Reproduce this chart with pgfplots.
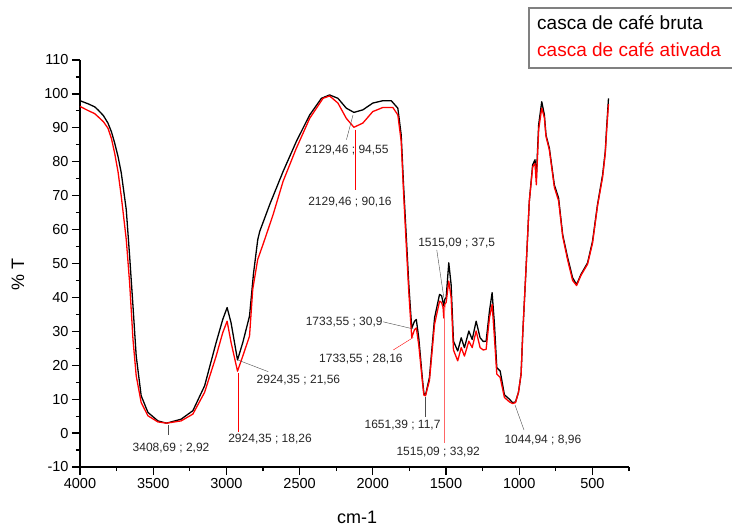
\documentclass[border=0pt]{standalone}
\usepackage{pgfplots}
\pgfplotsset{compat=1.18}
\usepackage{fontspec}
\setmainfont{Liberation Sans}

\begin{document}
\begin{tikzpicture}
\useasboundingbox (0,0) rectangle (732pt,528pt);
\begin{axis}[
  at={(80pt,61pt)}, anchor=south west,
  scale only axis, width=549pt, height=407pt,
  x dir=reverse,
  xmin=250, xmax=4000, ymin=-10, ymax=110,
  axis x line*=bottom, axis y line*=left,
  axis line style={line width=1.6pt, -},
  xtick={500,1000,...,4000}, minor xtick={750,1250,...,3750,250},
  ytick={-10,0,...,110}, minor ytick={-5,5,...,105},
  tick align=outside,
  major tick length=8pt, minor tick length=4pt,
  tick style={black, line width=1.2pt},
  /pgf/number format/assume math mode=true,
  /pgf/number format/set thousands separator={},
  tick label style={font=\fontsize{14.5}{16}\selectfont},
  xlabel={cm-1}, ylabel={\% T},
  label style={font=\fontsize{18}{20}\selectfont},
  xlabel style={at={(axis description cs:0.505,-0.125)}, anchor=center},
  ylabel style={at={(axis description cs:-0.113,0.472)}, anchor=center},
  clip=false,
]
% casca de café bruta
\addplot[black, line width=1.3pt, line join=round] coordinates {
(4000,98.0) (3940,97.0) (3900,96.2) (3877,95.3) (3840,93.6) (3809,91.4) (3785,88.8) (3763,85.5) (3740,81.5) (3718,76.7)
(3684,65.9) (3661,52.2) (3638,37.4) (3616,22.7) (3582,11.0) (3536,6.1)
(3468,3.6) (3409,2.92) (3309,4.1) (3229,6.6) (3149,13.9) (3070,26.7)
(3025,33.5) (2995,37.0) (2968,32.5) (2924,21.56) (2888,26.7) (2842,34.5)
(2815,47.0) (2786,57.0) (2772,59.5) (2704,67.4) (2613,77.1) (2522,86.0)
(2431,93.8) (2351,98.7) (2295,99.7) (2238,98.7) (2181,95.8) (2129,94.55)
(2068,95.3) (2000,97.3) (1931,98.0) (1874,98.0) (1829,95.8) (1806,87.9)
(1790,73.2) (1772,58.5) (1754,43.8) (1734,30.9) (1715,33.0) (1703,33.5)
(1686,28.1) (1662,16.4) (1651,11.7) (1640,11.2) (1613,16.4) (1578,34.0)
(1544,40.9) (1530,40.5) (1515,37.5) (1508,39.5) (1499,39.9) (1481,50.2)
(1465,43.8) (1449,27.1) (1420,24.2) (1396,28.1) (1374,25.2) (1344,30.1)
(1321,27.6) (1294,33.0) (1267,28.1) (1245,27.0) (1226,27.1) (1203,36.0)
(1185,41.4) (1169,32.1) (1153,19.3) (1130,18.3) (1101,11.3) (1067,10.0)
(1045,8.96) (1025,9.2) (1005,12.0) (987,17.4) (976,29.1) (953,48.7)
(931,68.3) (908,79.1) (892,80.6) (883,75.2) (867,90.9) (846,97.7)
(828,93.8) (817,87.9) (794,84.0) (760,73.2) (731,69.3) (703,58.5)
(669,51.7) (635,45.8) (608,43.8) (578,46.8) (533,50.2) (499,56.6)
(465,67.4) (430,76.2) (412,83.0) (403,89.9) (390,98.7)
};
% casca de café ativada
\addplot[red, line width=1.3pt, line join=round] coordinates {
(4000,96.3) (3940,95.0) (3900,94.2) (3877,93.3) (3840,91.8) (3809,89.9) (3785,86.8) (3763,82.5) (3740,77.0) (3718,69.8)
(3684,57.1) (3661,44.3) (3638,27.6) (3616,16.9) (3582,9.0) (3536,5.1)
(3468,3.3) (3409,2.92) (3309,3.6) (3229,5.6) (3149,12.0) (3070,22.7)
(3025,29.6) (2995,33.0) (2968,26.7) (2924,18.26) (2888,22.7) (2842,28.6)
(2820,42.4) (2786,51.2) (2750,55.6) (2681,64.4) (2613,74.2) (2522,84.0)
(2431,92.8) (2340,98.7) (2295,99.4) (2238,97.3) (2181,92.8) (2129,90.16)
(2068,91.4) (2000,94.8) (1931,96.0) (1863,96.0) (1829,93.8) (1806,86.0)
(1790,71.0) (1772,56.0) (1754,41.5) (1734,28.16) (1715,30.5) (1703,31.0)
(1686,26.0) (1662,15.5) (1651,11.2) (1640,11.0) (1613,15.5) (1578,32.1)
(1544,38.9) (1530,38.5) (1520,37.0) (1515,33.92) (1508,38.0) (1499,38.5)
(1481,44.8) (1465,40.0) (1449,24.5) (1420,21.3) (1396,25.2) (1374,22.7)
(1344,27.1) (1321,25.2) (1294,30.1) (1267,25.2) (1245,24.5) (1226,24.7)
(1203,34.0) (1185,37.9) (1169,28.1) (1153,17.4) (1130,16.4) (1101,10.5)
(1067,9.2) (1045,8.7) (1025,9.0) (1005,12.0) (987,17.4) (976,29.1)
(953,48.7) (931,68.3) (908,78.5) (892,79.5) (883,73.2) (867,89.5)
(846,95.8) (828,93.0) (817,87.5) (794,83.5) (760,72.5) (731,68.5)
(703,58.0) (669,51.0) (635,45.0) (608,43.5) (578,46.5) (533,49.8)
(499,56.0) (465,67.0) (430,75.5) (412,82.5) (403,89.0) (390,97.0)
};
% annotations
\begin{scope}[every node/.style={font=\fontsize{12}{14}\selectfont, text=black!85, inner sep=0pt}]
\draw[black!70] (axis cs:2135,93.8) -- (axis cs:2180,86.5);
\node at (axis cs:2177,83.5) {2129,46 ; 94,55};
\draw[red] (axis cs:2118,89.5) -- (axis cs:2118,71.7);
\node at (axis cs:2156,68.0) {2129,46 ; 90,16};
\draw[black!70] (axis cs:2919,21.5) -- (axis cs:2714,18.1);
\node at (axis cs:2508,15.6) {2924,35 ; 21,56};
\draw[red] (axis cs:2919,17.6) -- (axis cs:2919,0.4);
\node at (axis cs:2702,-1.8) {2924,35 ; 18,26};
\draw[black!70] (axis cs:3399,2.4) -- (axis cs:3399,-0.6);
\node at (axis cs:3378,-4.4) {3408,69 ; 2,92};
\draw[black!70] (axis cs:1929,32.8) -- (axis cs:1723,30.7);
\node[anchor=east] at (axis cs:1932,32.8) {1733,55 ; 30,9};
\draw[red] (axis cs:1860,24.5) -- (axis cs:1723,28.2);
\node at (axis cs:2081,21.8) {1733,55 ; 28,16};
\draw[black!70] (axis cs:1639,10.7) -- (axis cs:1639,4.8);
\node at (axis cs:1797,2.4) {1651,39 ; 11,7};
\draw[black!70] (axis cs:1563,54.0) -- (axis cs:1514,39.7);
\node at (axis cs:1427,56.0) {1515,09 ; 37,5};
\draw[red!60] (axis cs:1512,37.3) -- (axis cs:1512,-3.0);
\node at (axis cs:1553,-5.5) {1515,09 ; 33,92};
\draw[black!70] (axis cs:1029,8.3) -- (axis cs:967,0.9);
\node at (axis cs:838,-2.0) {1044,94 ; 8,96};
\end{scope}
\end{axis}
% legend box
\draw[gray, line width=1.5pt] (529pt,520pt) rectangle (745pt,460pt);
\node[anchor=base west, inner sep=0pt, font=\fontsize{19}{22}\selectfont] at (537pt,498pt) {casca de café bruta};
\node[anchor=base west, inner sep=0pt, text=red, font=\fontsize{19}{22}\selectfont] at (537pt,471pt) {casca de café ativada};
\end{tikzpicture}
\end{document}
